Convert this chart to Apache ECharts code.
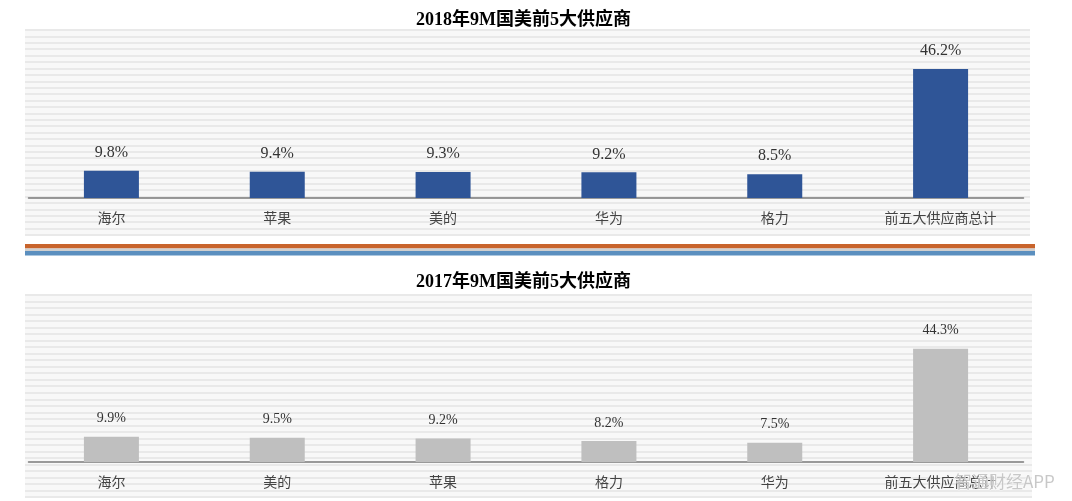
<!DOCTYPE html>
<html>
<head>
<meta charset="utf-8">
<script src="https://cdn.jsdelivr.net/npm/echarts@6/dist/echarts.min.js"></script>
<style>html,body{margin:0;padding:0;background:#fff;}#c{width:1072px;height:501px;}</style>
</head>
<body>
<div id="c"></div>
<script>
var title2018 = '2018年9M国美前5大供应商';
var title2017 = '2017年9M国美前5大供应商';
var categories2018 = ['海尔', '苹果', '美的', '华为', '格力', '前五大供应商总计'];
var values2018 = [9.8, 9.4, 9.3, 9.2, 8.5, 46.2];
var categories2017 = ['海尔', '美的', '苹果', '格力', '华为', '前五大供应商总计'];
var values2017 = [9.9, 9.5, 9.2, 8.2, 7.5, 44.3];
var watermark = '智通财经APP';

var chart = echarts.init(document.getElementById('c'), null, {renderer: 'canvas'});
var serif = '"Liberation Serif", "Noto Sans CJK SC", serif';
var cjk = '"Noto Sans CJK SC", sans-serif';
var stripeColor = '#e9e9e9';
var panelBg = '#f8f8f8';

function stripeGrid(top, height, right) {
  return {left: 25, right: right, top: top, height: height, show: true, backgroundColor: panelBg, borderWidth: 0, z: 0};
}

var option = {
  animation: false,
  backgroundColor: '#ffffff',
  title: [
    {text: title2018, left: 411, top: 6, textStyle: {fontFamily: serif, fontWeight: 'bold', fontSize: 18, color: '#000'}},
    {text: title2017, left: 411, top: 268, textStyle: {fontFamily: serif, fontWeight: 'bold', fontSize: 18, color: '#000'}}
  ],
  grid: [
    stripeGrid(30, 205, 42),
    {left: 28.5, right: 48.5, top: 30, height: 168},
    stripeGrid(295, 202, 40),
    {left: 28.5, right: 48.5, top: 295, height: 167}
  ],
  xAxis: [
    {gridIndex: 0, type: 'value', show: false, min: 0, max: 1},
    {gridIndex: 1, type: 'category', data: categories2018,
      axisLine: {lineStyle: {color: '#7a7a7a', width: 1.5}},
      axisTick: {show: false},
      axisLabel: {margin: 13, fontFamily: cjk, fontSize: 14, color: '#444'}},
    {gridIndex: 2, type: 'value', show: false, min: 0, max: 1},
    {gridIndex: 3, type: 'category', data: categories2017,
      axisLine: {lineStyle: {color: '#7a7a7a', width: 1.5}},
      axisTick: {show: false},
      axisLabel: {margin: 13, fontFamily: cjk, fontSize: 14, color: '#444'}}
  ],
  yAxis: [
    {gridIndex: 0, type: 'value', min: 0, max: 32, interval: 1,
      axisLine: {show: false}, axisTick: {show: false}, axisLabel: {show: false},
      splitLine: {show: true, lineStyle: {color: stripeColor, width: 2}}},
    {gridIndex: 1, type: 'value', min: 0, max: 60.2, show: false, splitLine: {show: false}},
    {gridIndex: 2, type: 'value', min: 0, max: 31, interval: 1,
      axisLine: {show: false}, axisTick: {show: false}, axisLabel: {show: false},
      splitLine: {show: true, lineStyle: {color: stripeColor, width: 2}}},
    {gridIndex: 3, type: 'value', min: 0, max: 65.3, show: false, splitLine: {show: false}}
  ],
  series: [
    {type: 'bar', xAxisIndex: 1, yAxisIndex: 1, data: values2018, barWidth: 55,
      itemStyle: {color: '#2f5597'},
      label: {show: true, position: 'top', distance: 10, formatter: '{c}%', fontFamily: serif, fontSize: 16, color: '#333'}},
    {type: 'bar', xAxisIndex: 3, yAxisIndex: 3, data: values2017, barWidth: 55,
      itemStyle: {color: '#bfbfbf'},
      label: {show: true, position: 'top', distance: 11, formatter: '{c}%', fontFamily: serif, fontSize: 14, color: '#333'}}
  ],
  graphic: [
    {type: 'rect', shape: {x: 25, y: 244, width: 1010, height: 4.5}, style: {fill: '#c8642c'}, z: 10},
    {type: 'rect', shape: {x: 25, y: 248.5, width: 1010, height: 2.5}, style: {fill: '#cfcfcf'}, z: 10},
    {type: 'rect', shape: {x: 25, y: 251, width: 1010, height: 4.5}, style: {fill: '#5b8fbf'}, z: 10},
    {type: 'text', x: 955, y: 473, style: {text: watermark, fill: 'rgba(190,190,190,0.85)', stroke: 'rgba(255,255,255,0.6)', lineWidth: 1, font: '17px "Noto Sans CJK SC", sans-serif'}, z: 20}
  ]
};
chart.setOption(option);
</script>
</body>
</html>
